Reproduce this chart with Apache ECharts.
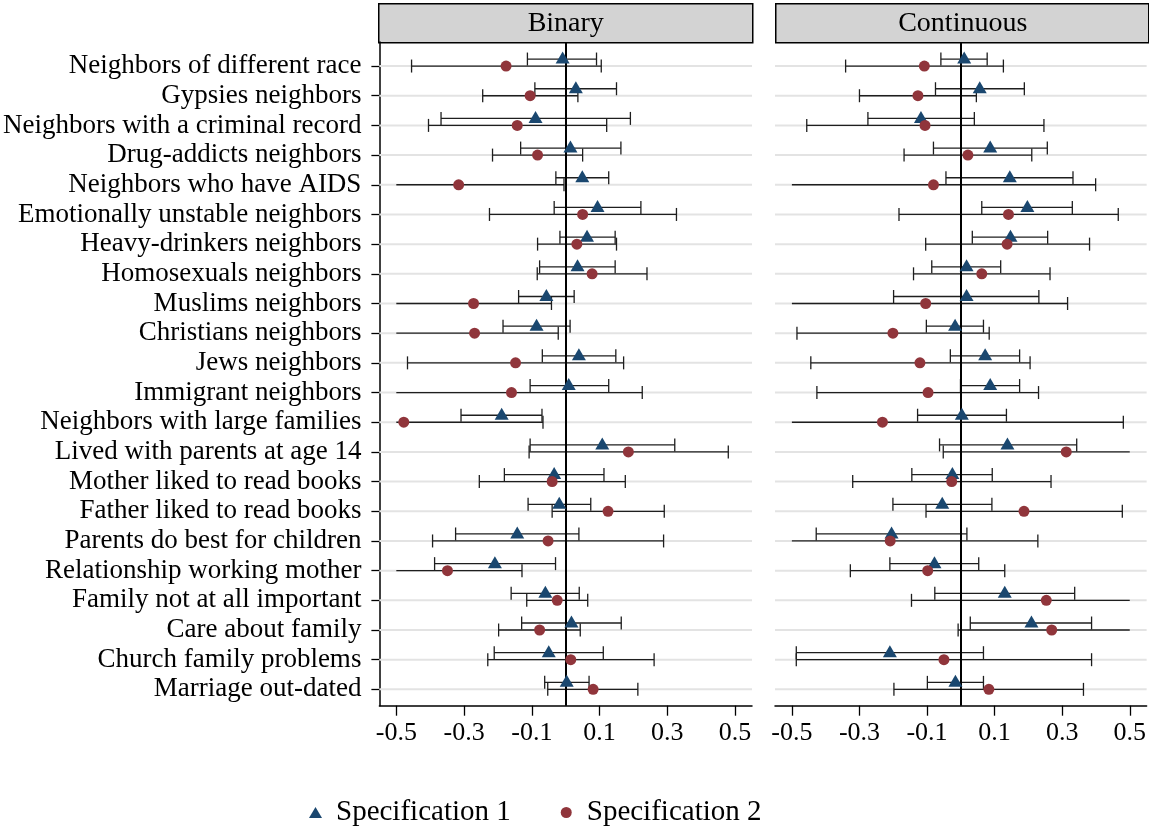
<!DOCTYPE html>
<html>
<head>
<meta charset="utf-8">
<script src="https://cdn.jsdelivr.net/npm/echarts@6/dist/echarts.min.js"></script>
<style>
html,body{margin:0;padding:0;background:#fff;}
#main{width:1149px;height:828px;}
</style>
</head>
<body>
<div id="main"></div>
<script>
const categories = [
  'Neighbors of different race','Gypsies neighbors','Neighbors with a criminal record',
  'Drug-addicts neighbors','Neighbors who have AIDS','Emotionally unstable neighbors',
  'Heavy-drinkers neighbors','Homosexuals neighbors','Muslims neighbors','Christians neighbors',
  'Jews neighbors','Immigrant neighbors','Neighbors with large families','Lived with parents at age 14',
  'Mother liked to read books','Father liked to read books','Parents do best for children',
  'Relationship working mother','Family not at all important','Care about family',
  'Church family problems','Marriage out-dated'
];
const panels = ['Binary', 'Continuous'];
const legendNames = ['Specification 1', 'Specification 2'];
const xTicks = [-0.5, -0.3, -0.1, 0.1, 0.3, 0.5];

// Binary, specification 1
const binS1Est = [-0.009,0.030,-0.089,0.014,0.049,0.094,0.063,0.035,-0.057,-0.086,0.039,0.009,-0.189,0.108,-0.034,-0.019,-0.143,-0.209,-0.060,0.017,-0.050,0.003];
const binS1Lo  = [-0.113,-0.091,-0.368,-0.133,-0.029,-0.034,-0.017,-0.077,-0.139,-0.185,-0.069,-0.105,-0.309,-0.105,-0.181,-0.111,-0.325,-0.387,-0.161,-0.130,-0.211,-0.062];
const binS1Hi  = [0.091,0.150,0.191,0.163,0.127,0.222,0.146,0.146,0.025,0.013,0.148,0.127,-0.070,0.322,0.113,0.074,0.039,-0.030,0.040,0.164,0.111,0.069];
// Binary, specification 2
const binS2Est = [-0.176,-0.105,-0.143,-0.083,-0.316,0.050,0.033,0.078,-0.272,-0.269,-0.148,-0.160,-0.478,0.185,-0.040,0.125,-0.052,-0.349,-0.025,-0.077,0.015,0.081];
const binS2Lo  = [-0.455,-0.245,-0.405,-0.216,-0.62,-0.225,-0.083,-0.084,-0.56,-0.55,-0.467,-0.55,-0.86,-0.108,-0.255,-0.040,-0.393,-0.57,-0.115,-0.198,-0.230,-0.053];
const binS2Hi  = [0.105,0.036,0.121,0.050,-0.005,0.327,0.150,0.240,-0.042,-0.022,0.171,0.226,-0.067,0.480,0.176,0.291,0.289,-0.129,0.065,0.043,0.261,0.213];
// Continuous, specification 1
const conS1Est = [0.010,0.056,-0.118,0.087,0.145,0.197,0.147,0.017,0.017,-0.017,0.072,0.087,0.003,0.138,-0.025,-0.055,-0.205,-0.078,0.130,0.209,-0.210,-0.016];
const conS1Lo  = [-0.059,-0.075,-0.275,-0.081,-0.044,0.062,0.034,-0.086,-0.199,-0.102,-0.031,-0.001,-0.128,-0.063,-0.145,-0.201,-0.428,-0.210,-0.077,0.028,-0.487,-0.099];
const conS1Hi  = [0.078,0.188,0.040,0.256,0.332,0.330,0.257,0.118,0.231,0.067,0.174,0.174,0.135,0.343,0.093,0.092,0.018,0.053,0.337,0.387,0.067,0.067];
// Continuous, specification 2
const conS2Est = [-0.108,-0.127,-0.106,0.021,-0.081,0.141,0.137,0.062,-0.104,-0.201,-0.121,-0.097,-0.232,0.312,-0.027,0.187,-0.209,-0.098,0.253,0.269,-0.050,0.083];
const conS2Lo  = [-0.341,-0.300,-0.456,-0.168,-0.56,-0.183,-0.104,-0.140,-0.53,-0.485,-0.444,-0.426,-0.58,-0.052,-0.320,-0.103,-0.55,-0.327,-0.146,-0.008,-0.487,-0.198];
const conS2Hi  = [0.126,0.046,0.246,0.210,0.399,0.466,0.381,0.264,0.316,0.084,0.205,0.230,0.481,0.62,0.267,0.478,0.228,0.130,0.62,0.55,0.387,0.363];

const FONT = '"Liberation Serif", "Times New Roman", serif';
const X_MIN = -0.55, X_MAX = 0.55, CLIP = 0.5;
const NAVY = '#1a476f', MAROON = '#90353b';
const BAR_COLOR = '#1e1e1e';
const rowIdx = categories.map((c, i) => i);

const panelData = [
  [[binS1Est, binS1Lo, binS1Hi], [binS2Est, binS2Lo, binS2Hi]],
  [[conS1Est, conS1Lo, conS1Hi], [conS2Est, conS2Lo, conS2Hi]]
];
const barOffset = [-7, 0];
const symOffset = [-8.5, 0];
const symbols = ['triangle', 'circle'];
const symSizes = [[14, 12], 11];
const colors = [NAVY, MAROON];

const grids = [
  {left: 378, top: 42, width: 374, height: 663.7},
  {left: 775, top: 42, width: 374, height: 663.7}
];

const xAxes = grids.map((g, i) => ({
  type: 'value', gridIndex: i, min: X_MIN, max: X_MAX,
  axisLine: {show: true, onZero: false, lineStyle: {color: '#000', width: 1.5}},
  axisTick: {show: true, length: 10, customValues: xTicks, lineStyle: {color: '#000', width: 1.3}},
  axisLabel: {customValues: xTicks, fontFamily: FONT, fontSize: 26, color: '#000', margin: 14},
  splitLine: {show: false}
}));

const yAxes = grids.map((g, i) => ({
  type: 'value', gridIndex: i, min: -0.81, max: 21.55, inverse: true,
  axisLine: {show: i === 0, onZero: false, lineStyle: {color: '#000', width: 1.5}},
  axisTick: {show: i === 0, length: 8, customValues: rowIdx, lineStyle: {color: '#000', width: 1.3}},
  axisLabel: {show: i === 0, customValues: rowIdx, formatter: v => categories[Math.round(v)] || '',
              fontFamily: FONT, fontSize: 27, color: '#000', margin: 18, padding: [10, 0, 0, 0]},
  splitLine: {show: false}
}));

const series = [];
grids.forEach((g, gi) => {
  // horizontal row guide lines
  series.push({
    type: 'custom', xAxisIndex: gi, yAxisIndex: gi, silent: true, z: 1,
    data: rowIdx.map(i => [0, i]),
    encode: {x: 0, y: 1},
    renderItem: (params, api) => {
      const cs = params.coordSys;
      const y = api.coord([0, api.value(1)])[1];
      return {type: 'line', shape: {x1: cs.x, y1: y, x2: cs.x + cs.width, y2: y},
              style: {stroke: '#e3e3e3', lineWidth: 2}};
    }
  });
  // zero reference line
  series.push({
    type: 'scatter', xAxisIndex: gi, yAxisIndex: gi, data: [], z: 2, silent: true,
    markLine: {silent: true, symbol: ['none', 'none'], label: {show: false}, animation: false,
               lineStyle: {color: '#000', width: 2, type: 'solid'}, data: [{xAxis: 0}]}
  });
  panelData[gi].forEach((arrs, si) => {
    const [est, lo, hi] = arrs;
    const off = barOffset[si];
    series.push({
      type: 'custom', xAxisIndex: gi, yAxisIndex: gi, silent: true, z: 3,
      data: lo.map((l, i) => [l, hi[i], i]),
      encode: {x: [0, 1], y: 2},
      renderItem: (params, api) => {
        const l = api.value(0), h = api.value(1), r = api.value(2);
        const a = Math.max(l, -CLIP), b = Math.min(h, CLIP);
        const p1 = api.coord([a, r]), p2 = api.coord([b, r]);
        const y = p1[1] + off;
        const st = {stroke: BAR_COLOR, lineWidth: 1.3};
        const ch = [{type: 'line', shape: {x1: p1[0], y1: y, x2: p2[0], y2: y}, style: st}];
        if (l >= -CLIP) ch.push({type: 'line', shape: {x1: p1[0], y1: y - 6.5, x2: p1[0], y2: y + 6.5}, style: st});
        if (h <= CLIP) ch.push({type: 'line', shape: {x1: p2[0], y1: y - 6.5, x2: p2[0], y2: y + 6.5}, style: st});
        return {type: 'group', children: ch};
      }
    });
    series.push({
      type: 'scatter', name: legendNames[si], xAxisIndex: gi, yAxisIndex: gi, z: 5,
      symbol: symbols[si], symbolSize: symSizes[si], symbolOffset: [0, symOffset[si]],
      itemStyle: {color: colors[si], opacity: 1},
      data: est.map((v, i) => [v, i])
    });
  });
});

const graphic = panels.map((p, i) => ({
  type: 'group', left: grids[i].left, top: 3,
  children: [
    {type: 'rect', shape: {x: 0, y: 0, width: i === 0 ? 374 : 373, height: 39},
     style: {fill: '#d3d3d3', stroke: '#000', lineWidth: 1.5}},
    {type: 'text', x: 187, y: 20,
     style: {text: p, fontFamily: FONT, fontSize: 28, fill: '#000', align: 'center', verticalAlign: 'middle'}}
  ]
}));

const chart = echarts.init(document.getElementById('main'));
chart.setOption({
  animation: false,
  backgroundColor: '#fff',
  grid: grids,
  xAxis: xAxes,
  yAxis: yAxes,
  series: series,
  graphic: graphic,
  legend: {
    left: 304, top: 793, itemWidth: 13, itemHeight: 11, itemGap: 50,
    data: [{name: legendNames[0], icon: 'triangle'}, {name: legendNames[1], icon: 'circle'}],
    textStyle: {fontFamily: FONT, fontSize: 29, color: '#000', padding: [0, 0, 0, 9]},
    selectedMode: false
  },
  tooltip: {show: false}
});
</script>
</body>
</html>
